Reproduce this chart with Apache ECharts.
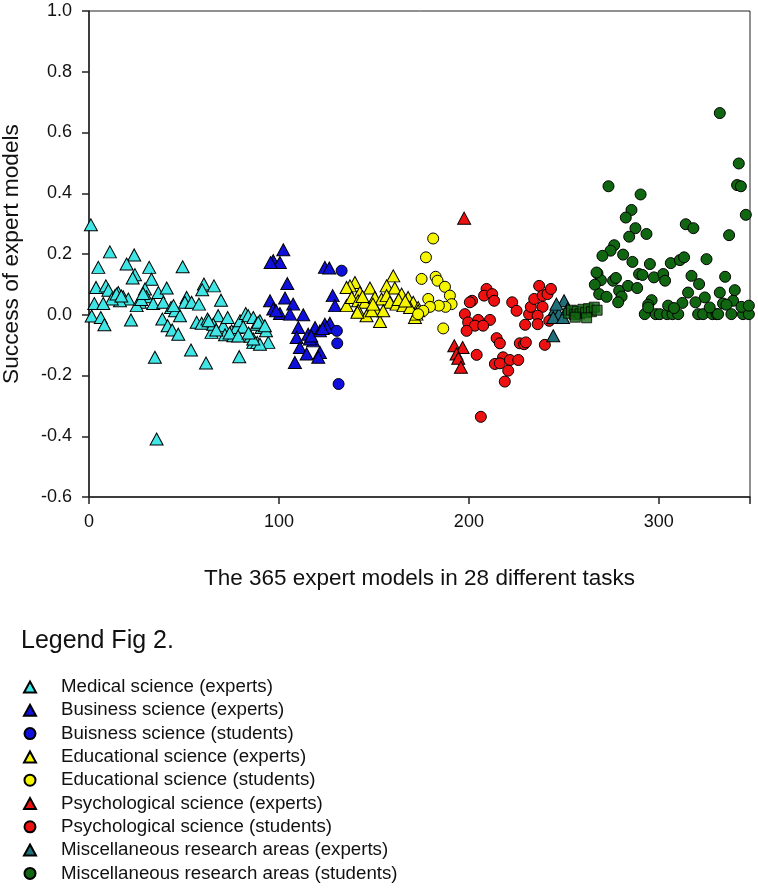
<!DOCTYPE html>
<html><head><meta charset="utf-8">
<script src="https://cdn.jsdelivr.net/npm/echarts@6/dist/echarts.min.js"></script>
<style>html,body{margin:0;padding:0;background:#fff}#c{width:758px;height:888px}</style>
</head><body><div id="c"></div>
<script>
var seriesNames = [
  'Medical science (experts)','Business science (experts)','Buisness science (students)',
  'Educational science (experts)','Educational science (students)','Psychological science (experts)',
  'Psychological science (students)','Miscellaneous research areas (experts)','Miscellaneous research areas (students)'
];
var yTicks = [-0.6,-0.4,-0.2,0.0,0.2,0.4,0.6,0.8,1.0];
var xTicks = [0,100,200,300];

var medicalExperts = [[1.0,0.296],[11,0.207],[23.8,0.197],[4.9,0.156],[19.8,0.167],[31.7,0.156],[49.3,0.158],[24.2,0.132],[23,0.121],[32.9,0.117],[60.5,0.101],[65.8,0.095],[59.6,0.082],[69.5,0.048],[3.7,0.09],[8.9,0.095],[10.2,0.081],[15.4,0.073],[13.7,0.063],[18,0.059],[20.7,0.052],[16.3,0.046],[12,0.052],[2.8,0.037],[7.5,0.037],[29.5,0.085],[30.3,0.059],[26.8,0.041],[25.1,0.03],[33.8,0.037],[36.5,0.073],[40.9,0.088],[39.1,0.041],[43.2,0.024],[45.3,0.013],[47.9,-0.003],[51.4,0.057],[50.5,0.041],[54,0.041],[57.9,0.035],[1.4,-0.004],[6.2,-0.009],[8.1,-0.033],[22.1,-0.017],[38.6,-0.014],[41.4,-0.036],[43.8,-0.05],[47,-0.064],[34.7,-0.14],[53.7,-0.116],[61.6,-0.159],[35.6,-0.409],[56.7,-0.025],[59.3,-0.028],[62.4,-0.014],[64.5,-0.058],[68,-0.003],[65.4,-0.031],[70.7,-0.036],[73,-0.009],[71.6,-0.066],[75.1,-0.053],[76,-0.069],[77.7,-0.042],[79.5,-0.02],[82.5,0.004],[83.8,-0.003],[79.1,-0.138],[85.1,-0.071],[86.5,-0.091],[81.2,-0.04],[90.9,-0.042],[90,-0.02],[88.6,-0.091],[94.4,-0.091],[93.2,-0.053],[86.5,-0.009],[88.2,-0.031],[89.1,-0.025],[92.6,-0.036],[90,-0.097],[86.5,-0.08],[14.5,0.068],[17,0.062],[27.5,0.05],[28.5,0.07],[44.5,0.03],[63,-0.02],[67,-0.05],[74,-0.06],[78.5,-0.07],[84,-0.06]];
var businessExperts = [[102.3,0.214],[97,0.178],[100.5,0.172],[95.6,0.172],[124.2,0.156],[126.5,0.154],[104.4,0.103],[95.3,0.046],[103.2,0.055],[107.5,0.035],[97,0.019],[100.5,0.004],[105.8,0.002],[112.8,0],[128.3,0.063],[129.5,0.03],[110.2,-0.042],[109.3,-0.075],[115.4,-0.064],[119,-0.042],[121.6,-0.053],[124.2,-0.031],[126.8,-0.028],[118,-0.086],[111,-0.108],[114.6,-0.129],[121.6,-0.124],[120.7,-0.14],[108.4,-0.157],[116.3,-0.08],[125.1,-0.042],[98.5,0.013],[117,-0.07],[123,-0.045]];
var businessStudents = [[133,0.145],[130.5,-0.053],[130.7,-0.094],[131.4,-0.228]];
var educationalExperts = [[160.2,0.128],[140,0.106],[137.4,0.095],[135.6,0.09],[142.6,0.073],[147.9,0.088],[156.7,0.095],[161,0.088],[164.6,0.068],[168,0.057],[170.7,0.041],[173.3,0.024],[135.6,0.03],[138.3,0.057],[141.7,0.046],[145.3,0.041],[150.5,0.057],[154,0.052],[156.7,0.063],[158.4,0.041],[161.9,0.035],[165.5,0.03],[169,0.024],[141.7,0.015],[146.1,-0.003],[151.4,0.015],[153.2,-0.022],[154.9,0.013],[148.8,0.013],[171.6,-0.009],[173.3,0.013],[141.3,0.008],[172.4,0.002],[144,0.06],[149.5,0.035],[163,0.05],[166.5,0.045]];
var educationalStudents = [[181.2,0.251],[177.4,0.189],[175.1,0.118],[182.5,0.125],[183.5,0.112],[187.4,0.092],[190,0.063],[190.9,0.035],[187.7,0.026],[184.2,0.03],[178.6,0.052],[179.5,0.026],[176,0.013],[173.3,0.002],[186.5,-0.045]];
var psychExperts = [[197.5,0.318],[192.3,-0.102],[196.7,-0.108],[193.5,-0.129],[194.4,-0.143],[195.8,-0.173]];
var psychStudents = [[209.3,0.085],[208,0.063],[212.3,0.068],[213.3,0.046],[201.7,0.046],[200.5,0.041],[197.9,0.002],[199.6,-0.025],[204.9,-0.017],[211.1,-0.017],[203.2,-0.036],[207.5,-0.036],[198.8,-0.053],[214.6,-0.077],[216.3,-0.094],[204.1,-0.132],[218,-0.14],[213.7,-0.162],[216.3,-0.16],[221.6,-0.149],[226,-0.149],[220.7,-0.184],[218.9,-0.22],[206.3,-0.336],[222.8,0.041],[225.1,0.013],[226.8,-0.094],[229.1,-0.097],[229.6,-0.033],[231.7,0.002],[232.6,0.026],[234.4,0.052],[237,0.095],[238.8,0.026],[236.2,-0.003],[236.2,-0.031],[238.8,0.063],[241.4,0.068],[243.2,0.085],[242.3,-0.02],[240,-0.099],[230,-0.091]];
var miscExperts = [[245.3,0.019],[250.1,0.046],[247.4,0.002],[244.4,-0.009],[249.6,-0.009],[244.4,-0.069],[246.1,0.035],[252,0.02]];
var miscSquares = [[252.5,0.005],[254,0.015],[255.5,0],[257,0.012],[258.5,0.003],[260,0.018],[261.5,0.007],[263,0.02],[264.5,0.01],[266,0.025],[267.5,0.015],[262,-0.01],[256,-0.008]];
var miscStudents = [[332.1,0.664],[342.1,0.498],[341.2,0.427],[343.2,0.423],[345.8,0.329],[273.5,0.423],[290.4,0.396],[285.6,0.345],[282.6,0.32],[287.7,0.285],[284.4,0.257],[293.5,0.266],[314.2,0.298],[318.2,0.285],[337,0.262],[276.5,0.229],[274.6,0.211],[270.3,0.194],[281.2,0.198],[286.1,0.174],[295.3,0.167],[306.3,0.17],[311.1,0.18],[313.3,0.189],[325.1,0.183],[267.7,0.136],[269.5,0.114],[266.3,0.099],[275.9,0.112],[277.4,0.121],[289.6,0.134],[291.4,0.131],[297.4,0.123],[302.3,0.134],[303.3,0.112],[317.2,0.128],[334.9,0.125],[268.6,0.068],[272.5,0.059],[279.1,0.079],[280.4,0.06],[283.8,0.095],[288.6,0.088],[278.6,0.041],[321.2,0.101],[315.4,0.073],[332.1,0.073],[340,0.081],[324.2,0.057],[339.1,0.046],[319.3,0.041],[312.4,0.039],[296.2,0.048],[294.4,0.033],[333.8,0.037],[335.6,0.033],[292.6,0.002],[298.4,0.002],[300.5,0.002],[304.4,0.002],[307.2,0.002],[310.2,0.002],[320.7,0.002],[323.3,0.002],[328.2,0.002],[330.4,0.002],[331.2,0.002],[338.2,0.002],[344.3,0.002],[347.4,0.002],[294.4,0.024],[304.9,0.03],[308,0.022],[326.8,0.024],[343.5,0.026],[347.4,0.03],[267.2,0.139]];

var colors = ['#40e6e6','#1010dd','#1010dd','#f5f500','#f5f500','#ee1111','#ee1111','#1f7078','#116611'];
var symbols = ['triangle','triangle','circle','triangle','circle','triangle','circle','triangle','circle'];
var datasets = [medicalExperts,businessExperts,businessStudents,educationalExperts,educationalStudents,psychExperts,psychStudents,miscExperts,miscStudents];

var series = datasets.map(function(d,i){
  return {
    name: seriesNames[i], type:'scatter', data:d, symbol:symbols[i],
    symbolSize: symbols[i]==='triangle' ? [13,12] : 11,
    itemStyle:{color:colors[i], borderColor:'#000', borderWidth:1, opacity:1},
    emphasis:{disabled:true}, z: 2
  };
});
series.push({name:'misc-squares', type:'scatter', data:miscSquares, symbol:'rect', symbolSize:10,
  itemStyle:{color:'#116611', borderColor:'#000', borderWidth:1}, emphasis:{disabled:true}});

var chart = echarts.init(document.getElementById('c'), null, {renderer:'canvas'});
chart.setOption({
  animation:false,
  backgroundColor:'#fff',
  textStyle:{fontFamily:'Liberation Sans, Arial, sans-serif'},
  title:{text:'Legend Fig 2.', left:16, top:624, textStyle:{fontSize:25, fontWeight:'normal', color:'#111', fontFamily:'Liberation Sans'}},
  legend:{
    data: seriesNames, orient:'vertical', left:23, top:677, bottom:0, itemWidth:12, itemHeight:11, itemGap:3.3,
    selectedMode:false, padding:0,
    textStyle:{fontSize:18.7, lineHeight:20, color:'#111', padding:[0,0,0,20], fontFamily:'Liberation Sans'}
  },
  grid:{left:89, right:8, top:11, bottom:391, show:true, borderColor:'#222', borderWidth:1, containLabel:false, outerBoundsMode:'none'},
  xAxis:{
    type:'value', min:0, max:348, interval:100,
    name:'The 365 expert models in 28 different tasks', nameLocation:'middle', nameGap:70,
    nameTextStyle:{fontSize:22.5, color:'#111', fontFamily:'Liberation Sans'},
    axisLine:{show:true, onZero:false, lineStyle:{color:'#222', width:1.5}},
    axisTick:{show:true, inside:false, length:7, lineStyle:{color:'#222', width:1.5}},
    axisLabel:{fontSize:18, color:'#111', margin:16, formatter:function(v){return xTicks.indexOf(v)>=0? String(v):'';}},
    splitLine:{show:false}
  },
  yAxis:{
    type:'value', min:-0.6, max:1.0, interval:0.2,
    name:'Success of expert models', nameLocation:'middle', nameGap:66,
    nameTextStyle:{fontSize:22.7, color:'#111', fontFamily:'Liberation Sans'},
    axisLine:{show:true, onZero:false, lineStyle:{color:'#222', width:1.5}},
    axisTick:{show:true, inside:false, length:7, lineStyle:{color:'#222', width:1.5}},
    axisLabel:{fontSize:18, color:'#111', margin:17, formatter:function(v){
      var r = Math.round(v*10)/10; return r.toFixed(1);
    }},
    splitLine:{show:false}
  },
  series: series
});
</script></body></html>
